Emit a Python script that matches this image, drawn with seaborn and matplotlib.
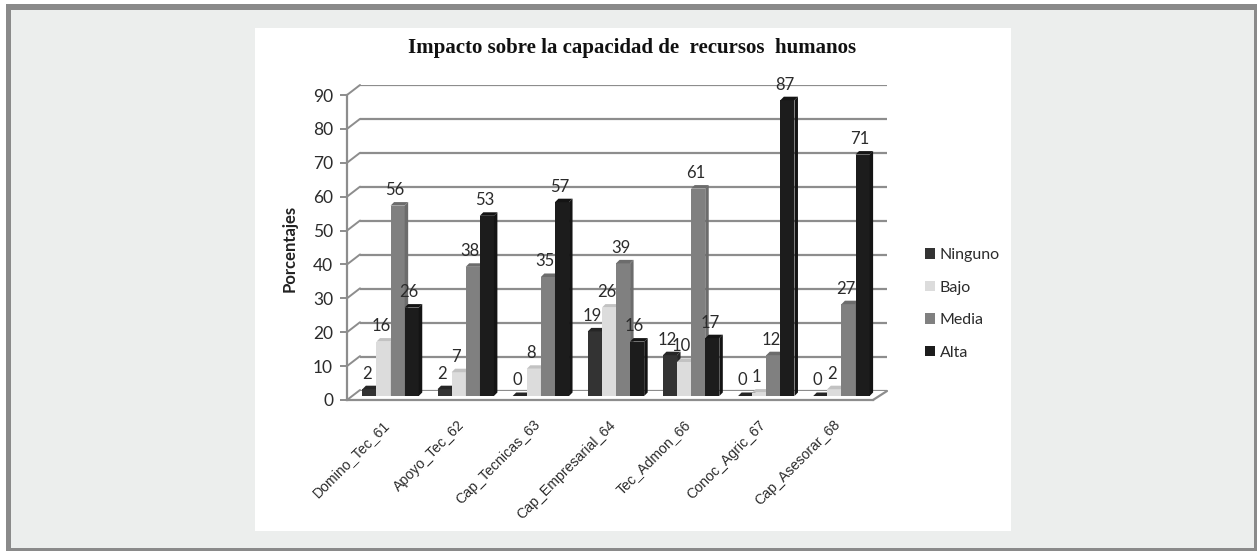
# Impacto sobre la capacidad de recursos humanos - barras con efecto 3D
import pandas as pd
import matplotlib.pyplot as plt
import seaborn as sns
from matplotlib.patches import Polygon, Rectangle
from matplotlib.transforms import Affine2D

W, H = 1257, 551

variables = ['Domino_Tec_61', 'Apoyo_Tec_62', 'Cap_Tecnicas_63', 'Cap_Empresarial_64',
             'Tec_Admon_66', 'Conoc_Agric_67', 'Cap_Asesorar_68']
ninguno = [2, 2, 0, 19, 12, 0, 0]
bajo = [16, 7, 8, 26, 10, 1, 2]
media = [56, 38, 35, 39, 61, 12, 27]
alta = [26, 53, 57, 16, 17, 87, 71]
niveles = ['Ninguno', 'Bajo', 'Media', 'Alta']
yticks = [0, 10, 20, 30, 40, 50, 60, 70, 80, 90]

colores = ['#333333', '#dcdcdc', '#808080', '#1c1c1c']
lados = ['#262626', '#c2c2c2', '#6c6c6c', '#141414']
GRIS = '#8d8d8d'
TEXTO = '#2b2b2b'

df = pd.DataFrame({
    'Variable': variables * 4,
    'Nivel': [n for n in niveles for _ in variables],
    'Porcentaje': ninguno + bajo + media + alta,
})

sns.set_theme(style='white')
plt.rcParams['font.family'] = ['Lato', 'DejaVu Sans']


def caja(l, t, r, b):
    return [l / W, 1 - b / H, (r - l) / W, (b - t) / H]


def rect(l, t, r, b, color, z):
    return Rectangle((l / W, 1 - b / H), (r - l) / W, (b - t) / H, transform=fig.transFigure,
                     facecolor=color, edgecolor='none', zorder=z)


fig = plt.figure(figsize=(W / 100, H / 100), dpi=100, facecolor='white')

# marco gris, fondo claro y panel blanco
fig.add_artist(rect(6, 4, W, H, '#8a8a8a', -3))
fig.add_artist(rect(11, 10, 1254, 548, '#eceeed', -2))
fig.add_artist(rect(255, 28, 1011, 531, 'white', -1))

# ejes: frente (marcas), fondo (rejilla), centro (barras)
ax = fig.add_axes(caja(347, 95, 873, 400))
ax_fondo = fig.add_axes(caja(360, 85, 887, 391))
ax_bar = fig.add_axes(caja(353, 90, 879, 396))
for a in (ax, ax_fondo, ax_bar):
    a.set_ylim(0, 90)
    a.patch.set_alpha(0)

for a in (ax_fondo, ax_bar):
    a.set_axis_off()

# rejilla del fondo y su union con el eje
ax_fondo.set_xlim(0, 1)
ax_fondo.hlines(yticks, 0, 1, color=GRIS, linewidth=1.6)
for t in yticks:
    ax.plot([-0.5, -0.5 + 13 / (526 / 7)], [t, t + 10 / 3.39], color=GRIS, linewidth=1.4, clip_on=False)

# suelo
ax.plot([6.5, 6.5 + 14 / (526 / 7)], [0, 9 / 3.39], color=GRIS, linewidth=1.6, clip_on=False)

sns.barplot(data=df, x='Variable', y='Porcentaje', hue='Nivel', hue_order=niveles,
            palette=colores, width=0.75, gap=0, saturation=1, linewidth=0,
            legend=False, ax=ax_bar)
ax_bar.set_xlim(-0.5, 6.5)
ax_bar.set_ylim(0, 90)
ax_bar.set_axis_off()

# caras lateral y superior de cada barra, y etiquetas
dx = 3.5 / (526 / 7)
dy = 3.5 / 3.39
for i, cont in enumerate(ax_bar.containers):
    z = 3 + i
    for barra in cont:
        barra.set_zorder(z)
        x0 = barra.get_x()
        x1 = x0 + barra.get_width()
        h = barra.get_height()
        ax_bar.add_patch(Polygon([(x1, 0), (x1 + dx, dy), (x1 + dx, h + dy), (x1, h)],
                                 facecolor=lados[i], edgecolor='none', zorder=z))
        ax_bar.add_patch(Polygon([(x0, h), (x0 + dx, h + dy), (x1 + dx, h + dy), (x1, h)],
                                 facecolor=lados[i], edgecolor='none', zorder=z))
    etiquetas = ax_bar.bar_label(cont, padding=5.5, fontsize=12, color=TEXTO)
    for e in etiquetas:
        e.xyann = (-1.8, e.xyann[1])
        e.set_zorder(z + 0.5)

# eje de frente
ax.set_xlim(-0.5, 6.5)
ax.set_xticks(range(7))
ax.set_xticklabels(variables, rotation=45, ha='right', va='center', rotation_mode='anchor',
                   family='Liberation Sans', fontsize=10.2, color=TEXTO)
ax.set_yticks(yticks)
ax.tick_params(axis='y', length=5, width=1.4, color=GRIS, labelsize=12.5, labelcolor=TEXTO, pad=5, left=True)
ax.tick_params(axis='x', length=0, pad=17)
for etiqueta in ax.get_xticklabels():
    etiqueta.set_transform(etiqueta.get_transform() + Affine2D().translate(3, 1))
for lado in ['top', 'right']:
    ax.spines[lado].set_visible(False)
for lado in ['left', 'bottom']:
    ax.spines[lado].set_color(GRIS)
    ax.spines[lado].set_linewidth(1.6)

fig.text(290 / W, 1 - 248 / H, 'Porcentajes', rotation=90, ha='center', va='center',
         fontsize=12, fontweight='bold', color='#222222')
fig.text(632 / W, 1 - 48 / H, 'Impacto sobre la capacidad de  recursos  humanos', ha='center', va='center',
         family='Liberation Serif', fontsize=15, fontweight='bold', color='#111111')

# leyenda
manejadores = [Rectangle((0, 0), 1, 1, facecolor=c, edgecolor='none') for c in colores]
fig.legend(manejadores, niveles, loc='center left', bbox_to_anchor=(925 / W, 1 - 304 / H),
           frameon=False, fontsize=11.5, labelcolor=TEXTO, handlelength=0.62, handleheight=0.62,
           handletextpad=0.3, labelspacing=1.16, borderpad=0, borderaxespad=0)

fig.savefig('out.png', dpi=100, facecolor=fig.get_facecolor())
